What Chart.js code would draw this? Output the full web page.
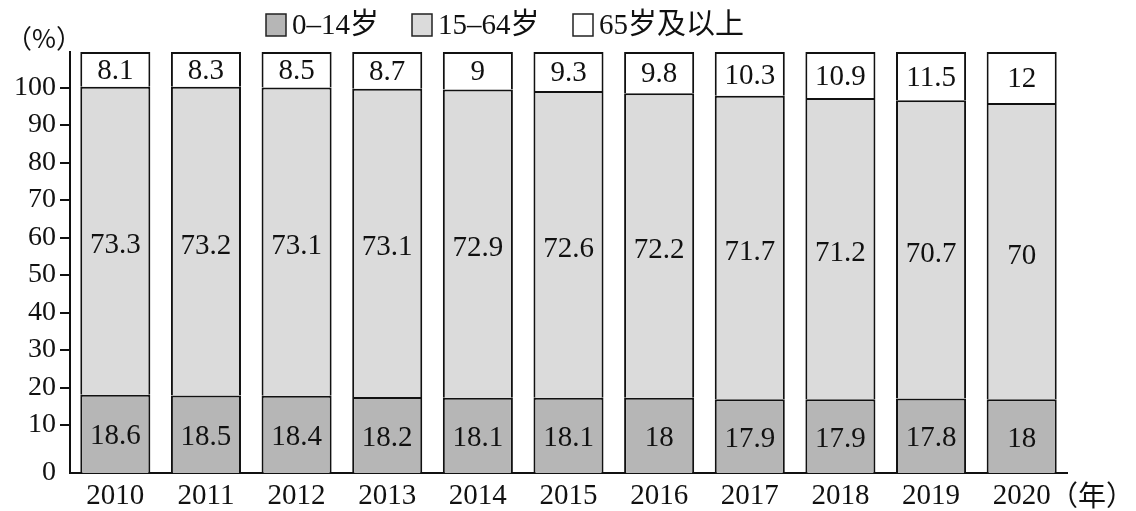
<!DOCTYPE html>
<html>
<head>
<meta charset="utf-8">
<script src="https://cdn.jsdelivr.net/npm/chart.js@4.4.1/dist/chart.umd.min.js"></script>
<style>
    html, body { margin: 0; padding: 0; background: #fff; }
    #wrap { width: 1136px; height: 511px; position: relative; }
</style>
</head>
<body>
<div id="wrap"><canvas id="chart"></canvas></div>
<script>
// 年份
const years = ['2010', '2011', '2012', '2013', '2014', '2015', '2016', '2017', '2018', '2019', '2020'];
const seriesNames = ['0–14岁', '15–64岁', '65岁及以上'];

// 柱内标注的数值 (%)
const youngLabels = [18.6, 18.5, 18.4, 18.2, 18.1, 18.1, 18, 17.9, 17.9, 17.8, 18];
const workingLabels = [73.3, 73.2, 73.1, 73.1, 72.9, 72.6, 72.2, 71.7, 71.2, 70.7, 70];
const elderlyLabels = [8.1, 8.3, 8.5, 8.7, 9, 9.3, 9.8, 10.3, 10.9, 11.5, 12];

// 原图并非按比例绘制: 各段上沿在纵轴上的读数
const youngTop = [18.1, 17.9, 17.8, 17.5, 17.3, 17.3, 17.3, 16.9, 16.9, 17.1, 16.9];
const workingTop = [100.2, 100.2, 100.0, 99.7, 99.5, 99.1, 98.5, 97.8, 97.2, 96.6, 95.9];
const elderlyTop = [109.5, 109.5, 109.5, 109.5, 109.5, 109.5, 109.5, 109.5, 109.5, 109.5, 109.5];

const yTicks = [0, 10, 20, 30, 40, 50, 60, 70, 80, 90, 100];
const axisFloor = -2.8; // 横轴线画在 0 刻度下方一点

const colors = ['#b6b6b6', '#dbdbdb', '#ffffff'];
const serif = "'Liberation Serif', 'Times New Roman', 'Noto Sans CJK SC', serif";
const cjk = "'Noto Sans CJK SC', 'Liberation Serif', serif";

const segLabels = [youngLabels, workingLabels, elderlyLabels];

function makeDataset(i, data) {
    return {
        label: seriesNames[i],
        data: data,
        backgroundColor: colors[i],
        borderColor: '#111',
        borderWidth: 2,
        borderSkipped: 'bottom',
        grouped: false,
        barPercentage: 0.773,
        categoryPercentage: 1
    };
}

const datasets = [
    makeDataset(0, youngTop.map(v => [axisFloor, v])),
    makeDataset(1, workingTop.map((v, i) => [youngTop[i], v])),
    makeDataset(2, elderlyTop.map((v, i) => [workingTop[i], v]))
];

// 柱内数值
const barLabels = {
    id: 'barLabels',
    afterDatasetsDraw(chart) {
        const ctx = chart.ctx;
        ctx.save();
        ctx.font = '29px ' + serif;
        ctx.fillStyle = '#111';
        ctx.textAlign = 'center';
        ctx.textBaseline = 'middle';
        const shift = [3, 5, 2];
        chart.data.datasets.forEach((ds, di) => {
            chart.getDatasetMeta(di).data.forEach((bar, i) => {
                const y = (bar.y + bar.base) / 2 + shift[di];
                ctx.fillText(String(segLabels[di][i]), bar.x, y);
            });
        });
        ctx.restore();
    }
};

// 图例和单位
const extras = {
    id: 'extras',
    afterDraw(chart) {
        const ctx = chart.ctx;
        ctx.save();
        const legendX = [266, 412, 573];
        ctx.textBaseline = 'middle';
        ctx.textAlign = 'left';
        ctx.font = '29px ' + serif;
        seriesNames.forEach((name, i) => {
            ctx.fillStyle = colors[i];
            ctx.fillRect(legendX[i], 14, 20, 22);
            ctx.strokeStyle = '#222';
            ctx.lineWidth = 1.5;
            ctx.strokeRect(legendX[i], 14, 20, 22);
            ctx.fillStyle = '#111';
            ctx.fillText(name, legendX[i] + 26, 26);
        });

        ctx.font = '26px ' + cjk;
        ctx.textAlign = 'center';
        ctx.fillText('（%）', 44, 38);
        ctx.font = '28px ' + cjk;
        ctx.textAlign = 'left';
        ctx.fillText('（年）', 1050, 495);
        ctx.restore();
    }
};

new Chart(document.getElementById('chart'), {
    type: 'bar',
    data: { labels: years, datasets: datasets },
    plugins: [barLabels, extras],
    options: {
        responsive: true,
        maintainAspectRatio: false,
        animation: false,
        layout: { padding: { top: 52, right: 69, left: 0, bottom: 0 } },
        plugins: {
            legend: { display: false },
            tooltip: { enabled: false }
        },
        scales: {
            x: {
                grid: { display: false, drawTicks: false },
                border: { display: true, color: '#111', width: 2 },
                ticks: {
                    color: '#111',
                    font: { family: serif, size: 29 },
                    padding: 6
                },
                afterFit(scale) { scale.height = 38; }
            },
            y: {
                min: axisFloor,
                max: 109.5,
                afterBuildTicks(scale) {
                    scale.ticks = yTicks.map(v => ({ value: v === 0 ? axisFloor : v }));
                },
                grid: {
                    drawOnChartArea: false,
                    drawTicks: true,
                    tickLength: 10,
                    lineWidth: 2,
                    color: c => (c.tick && c.tick.value === axisFloor) ? 'rgba(0,0,0,0)' : '#111'
                },
                border: { display: true, color: '#111', width: 2 },
                ticks: {
                    color: '#111',
                    font: { family: serif, size: 28 },
                    padding: 4,
                    callback: v => (v === axisFloor ? '0' : v)
                },
                afterFit(scale) { scale.width = 70; }
            }
        }
    }
});
</script>
</body>
</html>
